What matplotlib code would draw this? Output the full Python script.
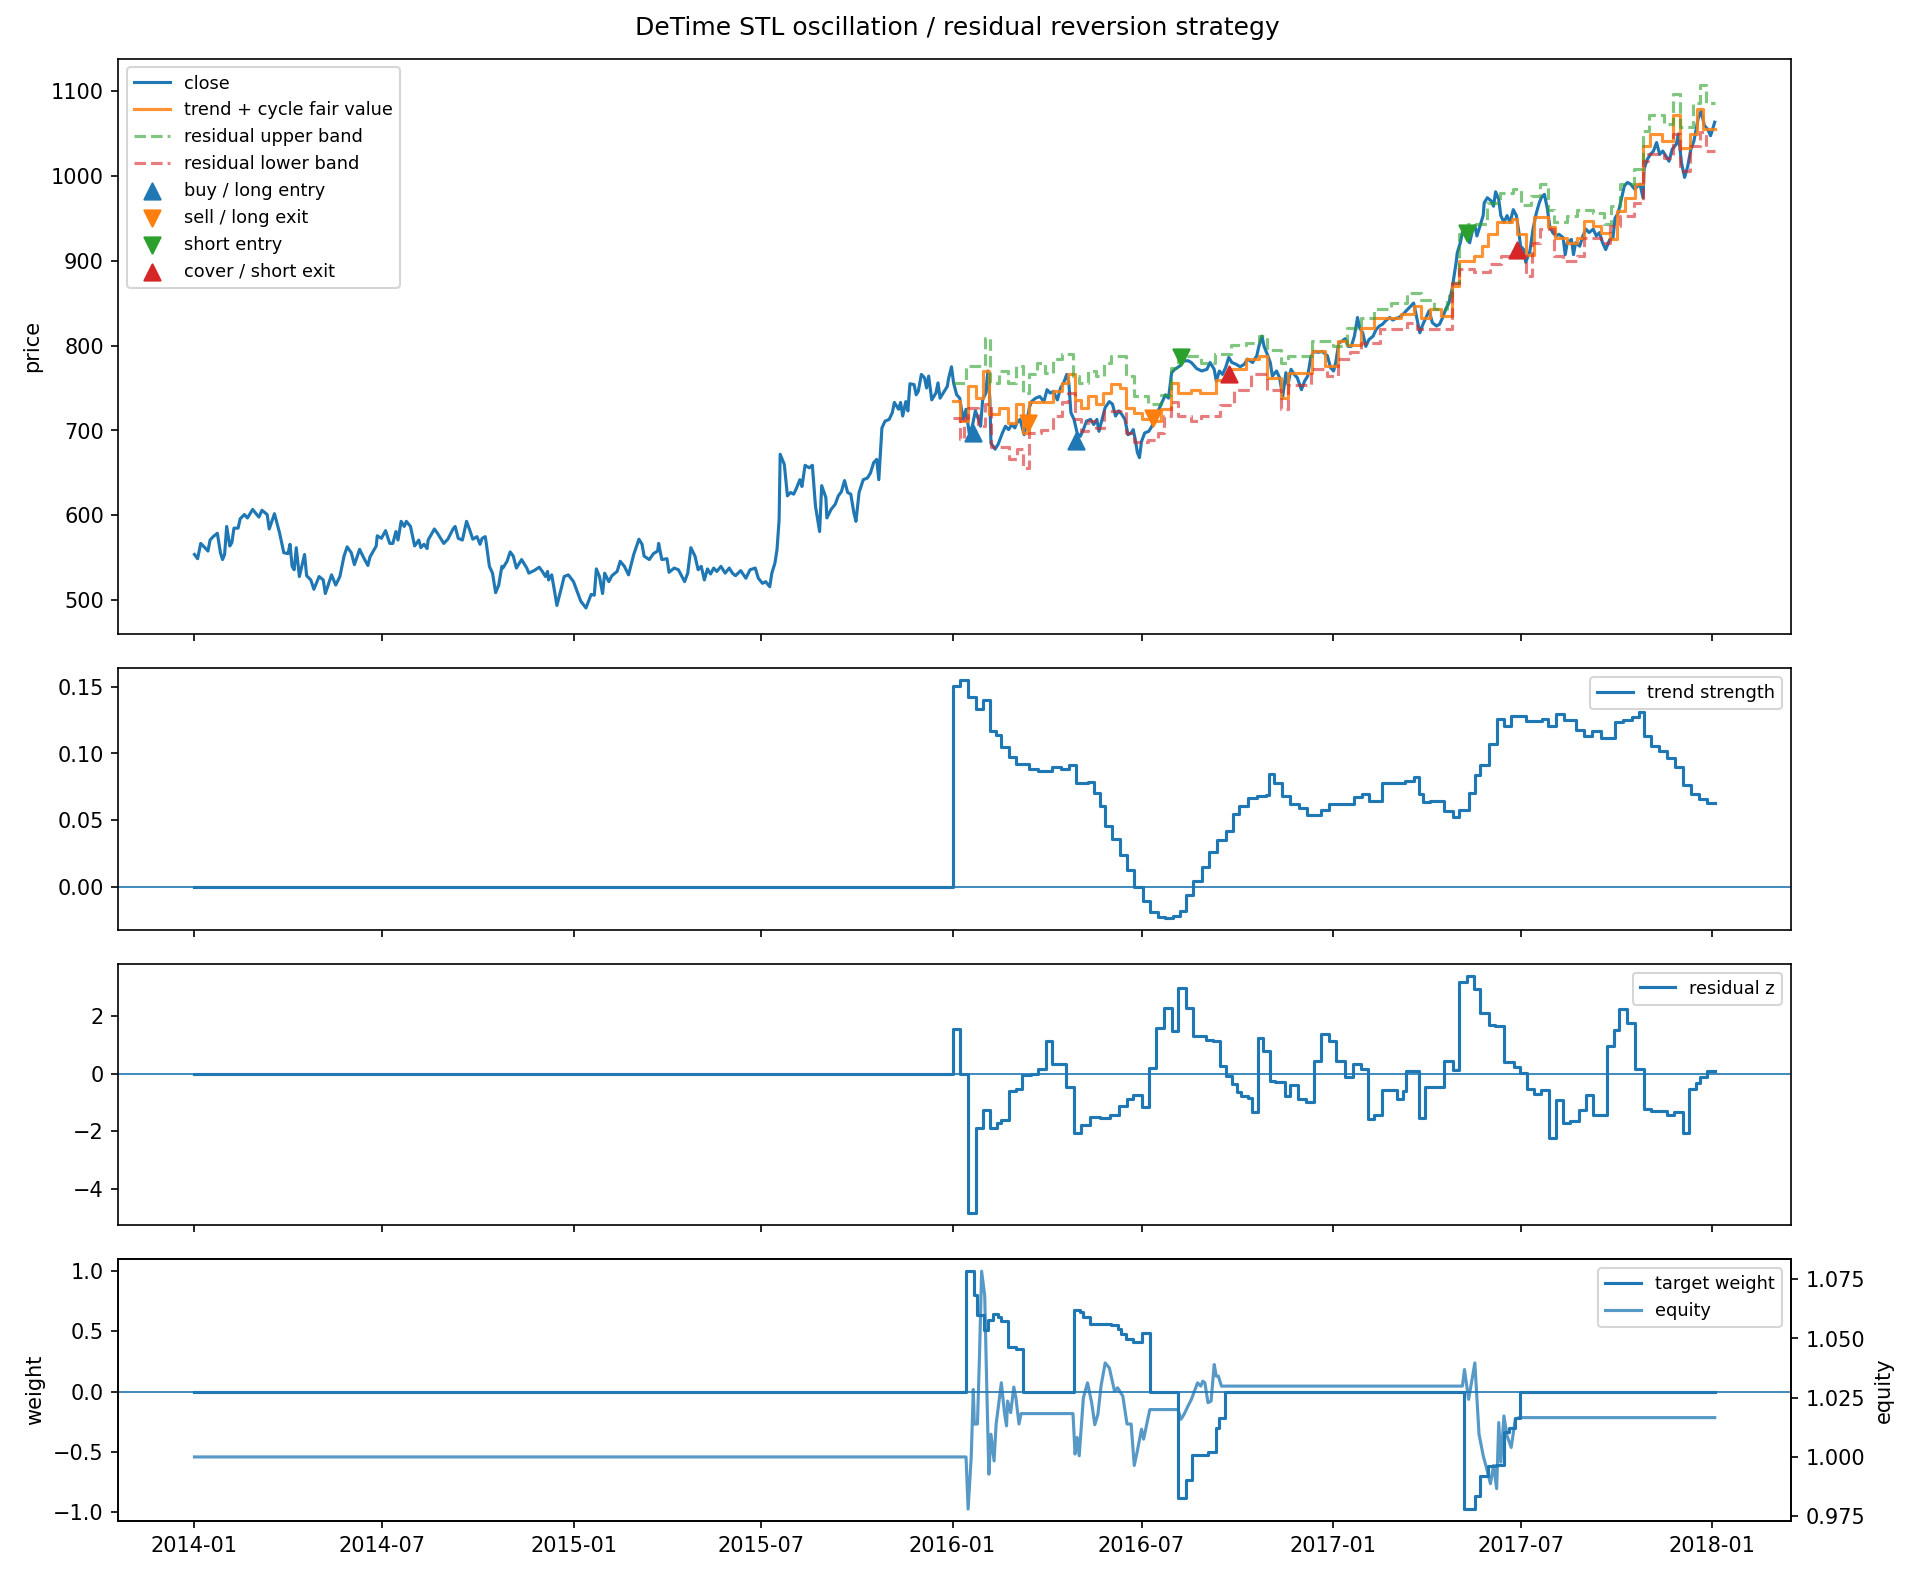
import numpy as np
import pandas as pd
import matplotlib
matplotlib.use("Agg")
import matplotlib.pyplot as plt
from matplotlib.ticker import MultipleLocator

START = pd.Timestamp("2014-01-01")

# every series is (days since 2014-01-01, value)
close = [(0, 554), (3, 549), (6, 567), (10, 562), (13, 558), (15, 571), (18, 575), (22, 579), (25, 556), (27, 548),
         (29, 554), (31, 587), (34, 564), (36, 568), (38, 585), (42, 585), (44, 596), (48, 601), (51, 597), (56, 607),
         (62, 598), (65, 606), (70, 601), (72, 584), (77, 602), (82, 579), (86, 556), (90, 555), (92, 566), (94, 540),
         (96, 536), (98, 562), (101, 528), (106, 554), (108, 529), (112, 524), (115, 513), (120, 528), (124, 524),
         (126, 508), (132, 530), (136, 518), (140, 528), (144, 552), (147, 563), (151, 556), (154, 542), (159, 560),
         (163, 550), (167, 541), (169, 551), (175, 564), (176, 576), (180, 573), (184, 582), (188, 567), (191, 567),
         (194, 581), (196, 571), (199, 593), (202, 587), (204, 593), (208, 587), (212, 564), (216, 571), (218, 562),
         (221, 566), (224, 561), (225, 571), (231, 584), (234, 579), (240, 567), (244, 572), (249, 584), (251, 587),
         (254, 573), (258, 571), (262, 593), (265, 583), (268, 572), (272, 575), (275, 566), (277, 573), (280, 575),
         (281, 567), (284, 540), (287, 532), (290, 509), (293, 518), (296, 540), (297, 538), (301, 546), (304, 557),
         (307, 552), (310, 538), (315, 548), (320, 538), (322, 532), (327, 535), (332, 539), (335, 534), (338, 528),
         (340, 534), (341, 524), (344, 530), (346, 516), (349, 494), (353, 513), (356, 528), (360, 530), (365, 522),
         (369, 509), (372, 499), (377, 491), (382, 507), (385, 506), (387, 537), (390, 528), (393, 508), (395, 532),
         (399, 522), (402, 529), (407, 534), (410, 546), (414, 540), (418, 530), (423, 554), (428, 572), (431, 566),
         (433, 552), (438, 548), (442, 555), (446, 558), (447, 567), (450, 548), (455, 549), (457, 533), (462, 538),
         (466, 536), (469, 529), (472, 522), (475, 532), (478, 562), (482, 552), (485, 536), (488, 540), (491, 524),
         (494, 537), (497, 531), (500, 538), (503, 534), (507, 540), (511, 532), (515, 538), (518, 532), (521, 529),
         (526, 535), (531, 526), (535, 536), (540, 538), (543, 526), (547, 520), (550, 522), (554, 516), (556, 532),
         (559, 544), (561, 560), (563, 595), (564, 672), (566, 666), (568, 660), (571, 623), (574, 627), (577, 625),
         (579, 630), (583, 642), (585, 634), (588, 659), (592, 656), (595, 659), (598, 611), (602, 581), (604, 635),
         (608, 621), (609, 597), (613, 607), (617, 613), (620, 623), (623, 628), (626, 641), (629, 627), (632, 625),
         (635, 603), (637, 593), (640, 627), (644, 642), (648, 644), (651, 650), (654, 662), (657, 666), (659, 642),
         (662, 703), (665, 711), (669, 713), (672, 721), (674, 733), (678, 725), (680, 733), (682, 717), (685, 734),
         (687, 723), (689, 755), (693, 754), (695, 742), (697, 746), (700, 766), (703, 762), (705, 750), (707, 764),
         (710, 736), (714, 744), (716, 756), (718, 738), (722, 746), (725, 752), (726, 760), (729, 775), (731, 756),
         (734, 742), (737, 738), (740, 713), (743, 725), (746, 697), (749, 705), (752, 723), (755, 713), (757, 705),
         (759, 736), (762, 744), (764, 770), (766, 736), (767, 685), (771, 678), (774, 684), (778, 697), (781, 705),
         (784, 701), (787, 707), (790, 703), (792, 709), (795, 713), (799, 695), (802, 713), (804, 727), (806, 734),
         (810, 738), (814, 740), (818, 734), (821, 748), (824, 744), (827, 746), (831, 736), (834, 750), (837, 756),
         (840, 766), (842, 756), (844, 721), (847, 713), (850, 697), (853, 693), (856, 701), (859, 711), (863, 713),
         (866, 707), (869, 713), (871, 699), (874, 713), (877, 727), (881, 734), (884, 731), (887, 717), (890, 723),
         (893, 719), (896, 713), (899, 695), (902, 697), (904, 701), (906, 689), (908, 674), (910, 668), (912, 687),
         (915, 697), (919, 699), (922, 705), (925, 715), (928, 723), (932, 734), (935, 742), (938, 738), (941, 768),
         (944, 772), (949, 776), (953, 782), (957, 782), (960, 780), (965, 773), (970, 770), (975, 772), (978, 780),
         (982, 772), (984, 758), (987, 770), (990, 766), (993, 774), (996, 786), (999, 780), (1003, 778), (1007, 775),
         (1011, 778), (1014, 784), (1019, 780), (1023, 788), (1025, 799), (1028, 811), (1030, 799), (1033, 790),
         (1036, 780), (1038, 764), (1042, 770), (1045, 762), (1048, 740), (1051, 768), (1053, 754), (1056, 772),
         (1059, 766), (1062, 762), (1066, 748), (1069, 758), (1072, 764), (1075, 786), (1078, 793), (1082, 792),
         (1086, 793), (1091, 788), (1094, 774), (1097, 770), (1099, 780), (1102, 803), (1105, 805), (1108, 808),
         (1111, 799), (1114, 799), (1117, 811), (1120, 833), (1122, 821), (1125, 815), (1128, 799), (1131, 807),
         (1135, 811), (1138, 819), (1141, 823), (1144, 825), (1147, 829), (1151, 833), (1154, 830), (1157, 832),
         (1160, 833), (1164, 837), (1167, 841), (1171, 846), (1174, 850), (1176, 839), (1180, 815), (1183, 825),
         (1186, 833), (1189, 841), (1192, 827), (1196, 823), (1199, 825), (1202, 833), (1205, 843), (1208, 850),
         (1211, 866), (1213, 882), (1215, 898), (1216, 909), (1219, 921), (1221, 933), (1224, 931), (1228, 921),
         (1231, 937), (1233, 941), (1235, 929), (1237, 937), (1241, 953), (1242, 968), (1245, 974), (1249, 970),
         (1251, 964), (1253, 981), (1256, 972), (1258, 953), (1261, 945), (1264, 953), (1267, 945), (1270, 960),
         (1273, 953), (1275, 937), (1277, 917), (1280, 913), (1282, 898), (1286, 911), (1289, 937), (1292, 955),
         (1295, 968), (1297, 974), (1300, 978), (1303, 960), (1305, 941), (1308, 933), (1311, 929), (1314, 931),
         (1318, 927), (1320, 907), (1322, 921), (1326, 925), (1328, 907), (1330, 921), (1334, 917), (1337, 929),
         (1340, 937), (1343, 933), (1347, 937), (1350, 929), (1353, 933), (1356, 921), (1359, 913), (1363, 925),
         (1366, 927), (1368, 950), (1371, 956), (1374, 972), (1377, 988), (1380, 992), (1383, 990), (1387, 984),
         (1390, 988), (1392, 990), (1395, 974), (1396, 1008), (1399, 1019), (1402, 1025), (1405, 1029), (1408, 1039),
         (1411, 1025), (1414, 1029), (1417, 1023), (1420, 1017), (1423, 1031), (1427, 1037), (1429, 1049),
         (1432, 1015), (1435, 998), (1438, 1011), (1441, 1031), (1444, 1041), (1448, 1067), (1451, 1076),
         (1454, 1059), (1457, 1055), (1460, 1047), (1464, 1063)]

# step series (value holds from its day until the next one)
fair_value = [(730, 735), (737, 711), (745, 752), (753, 738), (759, 770), (765, 719), (775, 726), (783, 709),
              (791, 731), (798, 697), (804, 733), (827, 746), (835, 756), (841, 766), (848, 736), (854, 727),
              (860, 741), (868, 731), (875, 744), (883, 755), (891, 750), (897, 727), (905, 721), (912, 713),
              (921, 711), (931, 725), (940, 756), (947, 744), (960, 748), (968, 744), (984, 760), (998, 772),
              (1013, 784), (1025, 788), (1033, 762), (1046, 738), (1053, 768), (1076, 793), (1089, 776), (1101, 805),
              (1110, 801), (1123, 821), (1136, 833), (1162, 837), (1174, 846), (1181, 833), (1190, 843), (1200, 835),
              (1211, 870), (1218, 900), (1232, 905), (1240, 917), (1246, 931), (1254, 945), (1269, 949), (1274, 931),
              (1282, 907), (1290, 951), (1303, 939), (1310, 927), (1322, 921), (1331, 927), (1338, 947), (1347, 941),
              (1354, 933), (1363, 925), (1370, 958), (1378, 974), (1387, 990), (1395, 1035), (1402, 1049),
              (1413, 1041), (1424, 1072), (1431, 1033), (1440, 1049), (1447, 1078), (1453, 1055), (1464, 1055)]
upper_band = [(730, 756), (743, 776), (761, 809), (766, 756), (775, 770), (783, 756), (791, 776), (798, 744),
              (804, 766), (811, 780), (819, 768), (827, 784), (835, 790), (846, 764), (852, 756), (860, 770),
              (868, 764), (876, 780), (883, 788), (897, 764), (905, 740), (918, 731), (931, 742), (940, 774),
              (947, 788), (969, 780), (983, 790), (998, 801), (1013, 803), (1025, 811), (1033, 795), (1046, 780),
              (1053, 788), (1076, 805), (1096, 800), (1110, 821), (1123, 833), (1136, 843), (1152, 850), (1168, 862),
              (1181, 854), (1194, 843), (1206, 858), (1211, 874), (1218, 931), (1226, 943), (1245, 968), (1257, 980),
              (1270, 984), (1277, 966), (1287, 976), (1296, 990), (1303, 960), (1309, 945), (1322, 953), (1331, 960),
              (1347, 956), (1357, 943), (1364, 964), (1373, 990), (1386, 1008), (1395, 1053), (1401, 1071),
              (1415, 1061), (1424, 1096), (1431, 1057), (1443, 1086), (1450, 1107), (1456, 1086), (1464, 1086)]
lower_band = [(730, 715), (737, 690), (741, 715), (745, 727), (755, 705), (761, 731), (767, 681), (784, 666),
              (792, 678), (798, 656), (804, 697), (815, 701), (827, 717), (835, 733), (841, 744), (848, 713),
              (854, 699), (860, 711), (868, 703), (876, 723), (897, 697), (905, 687), (918, 689), (928, 697),
              (934, 717), (940, 734), (947, 717), (960, 711), (969, 717), (988, 730), (1001, 748), (1017, 766),
              (1033, 748), (1046, 725), (1053, 754), (1075, 772), (1091, 764), (1101, 784), (1113, 792), (1123, 803),
              (1142, 819), (1168, 827), (1177, 819), (1211, 874), (1218, 890), (1232, 886), (1248, 896), (1258, 905),
              (1282, 882), (1288, 921), (1296, 937), (1309, 905), (1318, 900), (1331, 905), (1338, 927), (1354, 921),
              (1363, 941), (1373, 953), (1386, 968), (1395, 1017), (1400, 1025), (1415, 1021), (1424, 1049),
              (1431, 1006), (1440, 1035), (1450, 1051), (1456, 1029), (1464, 1029)]

buy_signals = [(750, 697), (849, 688)]
sell_signals = [(803, 709), (923, 715)]
short_signals = [(950, 786), (1225, 933)]
cover_signals = [(996, 766), (1274, 913)]

trend_strength = [(0, 0.0), (730, 0.1505), (737, 0.155), (745, 0.142), (753, 0.133), (759, 0.140), (766, 0.1165),
                  (772, 0.114), (777, 0.105), (784, 0.097), (791, 0.092), (804, 0.088), (812, 0.087), (826, 0.0897),
                  (834, 0.0886), (842, 0.0914), (849, 0.078), (860, 0.079), (866, 0.0705), (872, 0.0605),
                  (877, 0.046), (884, 0.0356), (891, 0.024), (898, 0.0127), (905, 0.0), (913, -0.0106),
                  (920, -0.019), (928, -0.0222), (935, -0.0231), (942, -0.022), (949, -0.018), (955, -0.0063),
                  (962, 0.0045), (970, 0.0147), (977, 0.026), (985, 0.035), (993, 0.042), (1000, 0.055),
                  (1006, 0.0607), (1015, 0.0663), (1023, 0.068), (1032, 0.069), (1035, 0.0846), (1040, 0.078),
                  (1047, 0.068), (1055, 0.0625), (1064, 0.0588), (1071, 0.0537), (1085, 0.0575), (1093, 0.0625),
                  (1117, 0.0675), (1124, 0.0696), (1131, 0.0645), (1144, 0.078), (1166, 0.0796), (1174, 0.0826),
                  (1179, 0.0694), (1183, 0.0637), (1190, 0.0645), (1203, 0.057), (1212, 0.0524), (1218, 0.0575),
                  (1227, 0.0705), (1233, 0.0838), (1238, 0.0914), (1247, 0.107), (1254, 0.1258), (1261, 0.1202),
                  (1268, 0.1283), (1282, 0.124), (1298, 0.1258), (1303, 0.1202), (1311, 0.1298), (1319, 0.1248),
                  (1330, 0.1178), (1338, 0.1133), (1346, 0.1165), (1354, 0.1115), (1368, 0.1233), (1376, 0.1248),
                  (1384, 0.1273), (1391, 0.1308), (1396, 0.1128), (1403, 0.1057), (1410, 0.1022), (1418, 0.0964),
                  (1426, 0.0897), (1433, 0.0763), (1441, 0.0694), (1449, 0.0656), (1457, 0.0631), (1464, 0.0631)]

residual_z = [(0, 0.0), (730, 1.566), (737, 0.0), (745, -4.853), (753, -1.874), (759, -1.273), (766, -1.874),
              (773, -1.70), (777, -1.61), (784, -0.60), (791, -0.52), (797, -0.06), (806, 0.0), (812, 0.17),
              (820, 1.15), (826, 0.353), (839, -0.467), (847, -2.07), (854, -1.78), (862, -1.494), (872, -1.53),
              (882, -1.44), (890, -1.124), (898, -0.894), (904, -0.754), (912, -1.16), (919, 0.203), (926, 1.58),
              (934, 2.28), (941, 1.499), (947, 2.974), (955, 2.28), (962, 1.327), (974, 1.188), (981, 1.15),
              (988, 0.28), (993, -0.07), (999, -0.37), (1004, -0.62), (1008, -0.77), (1015, -0.83), (1018, -1.32),
              (1024, 1.24), (1029, 0.78), (1036, -0.26), (1041, -0.28), (1050, -0.78), (1055, -0.38), (1063, -0.86),
              (1070, -0.975), (1078, 0.435), (1085, 1.393), (1093, 1.128), (1099, 0.457), (1108, -0.12),
              (1116, 0.353), (1123, 0.168), (1130, -1.586), (1136, -1.436), (1144, -0.58), (1158, -0.89),
              (1164, -0.6), (1167, 0.11), (1179, -1.53), (1185, -0.47), (1203, 0.457), (1212, 0.145),
              (1218, 3.205), (1225, 3.41), (1232, 2.94), (1238, 2.108), (1247, 1.704), (1252, 1.646),
              (1261, 0.399), (1271, 0.226), (1276, 0.03), (1283, -0.513), (1290, -0.72), (1297, -0.548),
              (1304, -2.221), (1311, -0.928), (1318, -1.702), (1325, -1.644), (1333, -1.275), (1340, -0.744),
              (1347, -1.448), (1360, 0.977), (1367, 1.532), (1372, 2.248), (1380, 1.763), (1387, 0.179),
              (1396, -1.218), (1403, -1.298), (1418, -1.436), (1425, -1.321), (1433, -2.072), (1439, -0.525),
              (1446, -0.317), (1450, -0.12), (1457, 0.09), (1464, 0.09)]

target_weight = [(0, 0.0), (743, 1.0), (751, 0.8), (754, 0.637), (760, 0.512), (764, 0.595), (769, 0.642),
                 (774, 0.62), (777, 0.587), (783, 0.373), (791, 0.355), (798, 0.0), (847, 0.678), (853, 0.659),
                 (856, 0.623), (862, 0.562), (883, 0.55), (889, 0.52), (892, 0.48), (897, 0.44), (904, 0.4135),
                 (912, 0.489), (920, 0.0), (947, -0.885), (955, -0.733), (961, -0.531), (976, -0.503),
                 (984, -0.304), (987, -0.221), (992, 0.0), (1223, -0.976), (1233, -0.87), (1238, -0.70),
                 (1246, -0.62), (1253, -0.61), (1261, -0.34), (1266, -0.30), (1272, -0.22), (1276, 0.0),
                 (1464, 0.0)]

equity = [(0, 1.0), (743, 1.0), (745, 0.978), (748, 1.0), (750, 1.0285), (751, 1.0139), (754, 1.0139),
          (756, 1.0433), (758, 1.0784), (761, 1.068), (763, 1.029), (765, 0.9927), (767, 1.0096), (770, 0.9983),
          (772, 1.0139), (774, 1.0208), (777, 1.0313), (780, 1.0187), (782, 1.0131), (783, 1.0236), (786, 1.0187),
          (789, 1.0295), (791, 1.025), (794, 1.0139), (796, 1.0183), (846, 1.0183), (848, 1.0012), (850, 1.0082),
          (852, 1.0005), (856, 1.025), (860, 1.0313), (864, 1.0229), (867, 1.0136), (870, 1.018), (873, 1.0299),
          (877, 1.0397), (881, 1.0376), (886, 1.0278), (889, 1.0292), (894, 1.0257), (898, 1.0139),
          (902, 1.0139), (905, 0.9964), (908, 1.0026), (912, 1.0117), (914, 1.0075), (920, 1.02), (947, 1.02),
          (950, 1.0159), (953, 1.018), (956, 1.0208), (960, 1.0243), (963, 1.0278), (966, 1.0313),
          (969, 1.0299), (971, 1.032), (973, 1.0313), (976, 1.0229), (979, 1.0236), (982, 1.039), (984, 1.0341),
          (986, 1.0341), (989, 1.0299), (1221, 1.0299), (1223, 1.0369), (1227, 1.0243), (1233, 1.0397),
          (1237, 1.0097), (1241, 1.0006), (1244, 0.9957), (1248, 0.9887), (1251, 0.9964), (1254, 0.9866),
          (1256, 1.0145), (1258, 0.9978), (1261, 1.0173), (1264, 1.0089), (1268, 1.004), (1272, 1.016),
          (1276, 1.0166), (1464, 1.0166)]


def to_xy(pairs):
    days, vals = zip(*pairs)
    return START + pd.to_timedelta(list(days), unit="D"), np.array(vals, dtype=float)


fig, axes = plt.subplots(4, 1, figsize=(12.76, 10.487), dpi=150, sharex=True,
                         gridspec_kw={"height_ratios": [2.2, 1, 1, 1]})
fig.subplots_adjust(left=0.0619, right=0.9356, top=0.9627, bottom=0.0331, hspace=0.1)
ax_price, ax_trend, ax_z, ax_w = axes
LEGEND_FS = 8.5

# price panel
x, y = to_xy(close)
ax_price.plot(x, y, color="C0", lw=1.5, label="close")
x, y = to_xy(fair_value)
ax_price.plot(x, y, color="C1", lw=1.5, alpha=0.85, drawstyle="steps-post", label="trend + cycle fair value")
x, y = to_xy(upper_band)
ax_price.plot(x, y, color="C2", lw=1.5, ls="--", alpha=0.6, drawstyle="steps-post", label="residual upper band")
x, y = to_xy(lower_band)
ax_price.plot(x, y, color="C3", lw=1.5, ls="--", alpha=0.6, drawstyle="steps-post", label="residual lower band")

for pairs, marker, color, label in [(buy_signals, "^", "C0", "buy / long entry"),
                                    (sell_signals, "v", "C1", "sell / long exit"),
                                    (short_signals, "v", "C2", "short entry"),
                                    (cover_signals, "^", "C3", "cover / short exit")]:
    x, y = to_xy(pairs)
    ax_price.scatter(x, y, marker=marker, s=60, color=color, label=label, zorder=3)

ax_price.set_ylabel("price")
ax_price.legend(loc="upper left", fontsize=LEGEND_FS)

# trend strength
x, y = to_xy(trend_strength)
ax_trend.plot(x, y, color="C0", lw=1.5, drawstyle="steps-post", label="trend strength")
ax_trend.axhline(0, linewidth=0.8)
ax_trend.legend(loc="upper right", fontsize=LEGEND_FS)

# residual z
x, y = to_xy(residual_z)
ax_z.plot(x, y, color="C0", lw=1.5, drawstyle="steps-post", label="residual z")
ax_z.axhline(0, linewidth=0.8)
ax_z.legend(loc="upper right", fontsize=LEGEND_FS)

# weight + equity
x, y = to_xy(target_weight)
l1, = ax_w.plot(x, y, color="C0", lw=1.5, drawstyle="steps-post", label="target weight")
ax_w.axhline(0, linewidth=0.8)
ax_w.set_ylabel("weight")
ax_eq = ax_w.twinx()
x, y = to_xy(equity)
l2, = ax_eq.plot(x, y, color="C0", lw=1.5, alpha=0.75, label="equity")
ax_eq.yaxis.set_major_locator(MultipleLocator(0.025))
ax_eq.set_ylabel("equity")
ax_eq.legend([l1, l2], ["target weight", "equity"], loc="upper right", fontsize=LEGEND_FS)

fig.suptitle("DeTime STL oscillation / residual reversion strategy", y=0.99)

fig.savefig("out.png", dpi=150)
